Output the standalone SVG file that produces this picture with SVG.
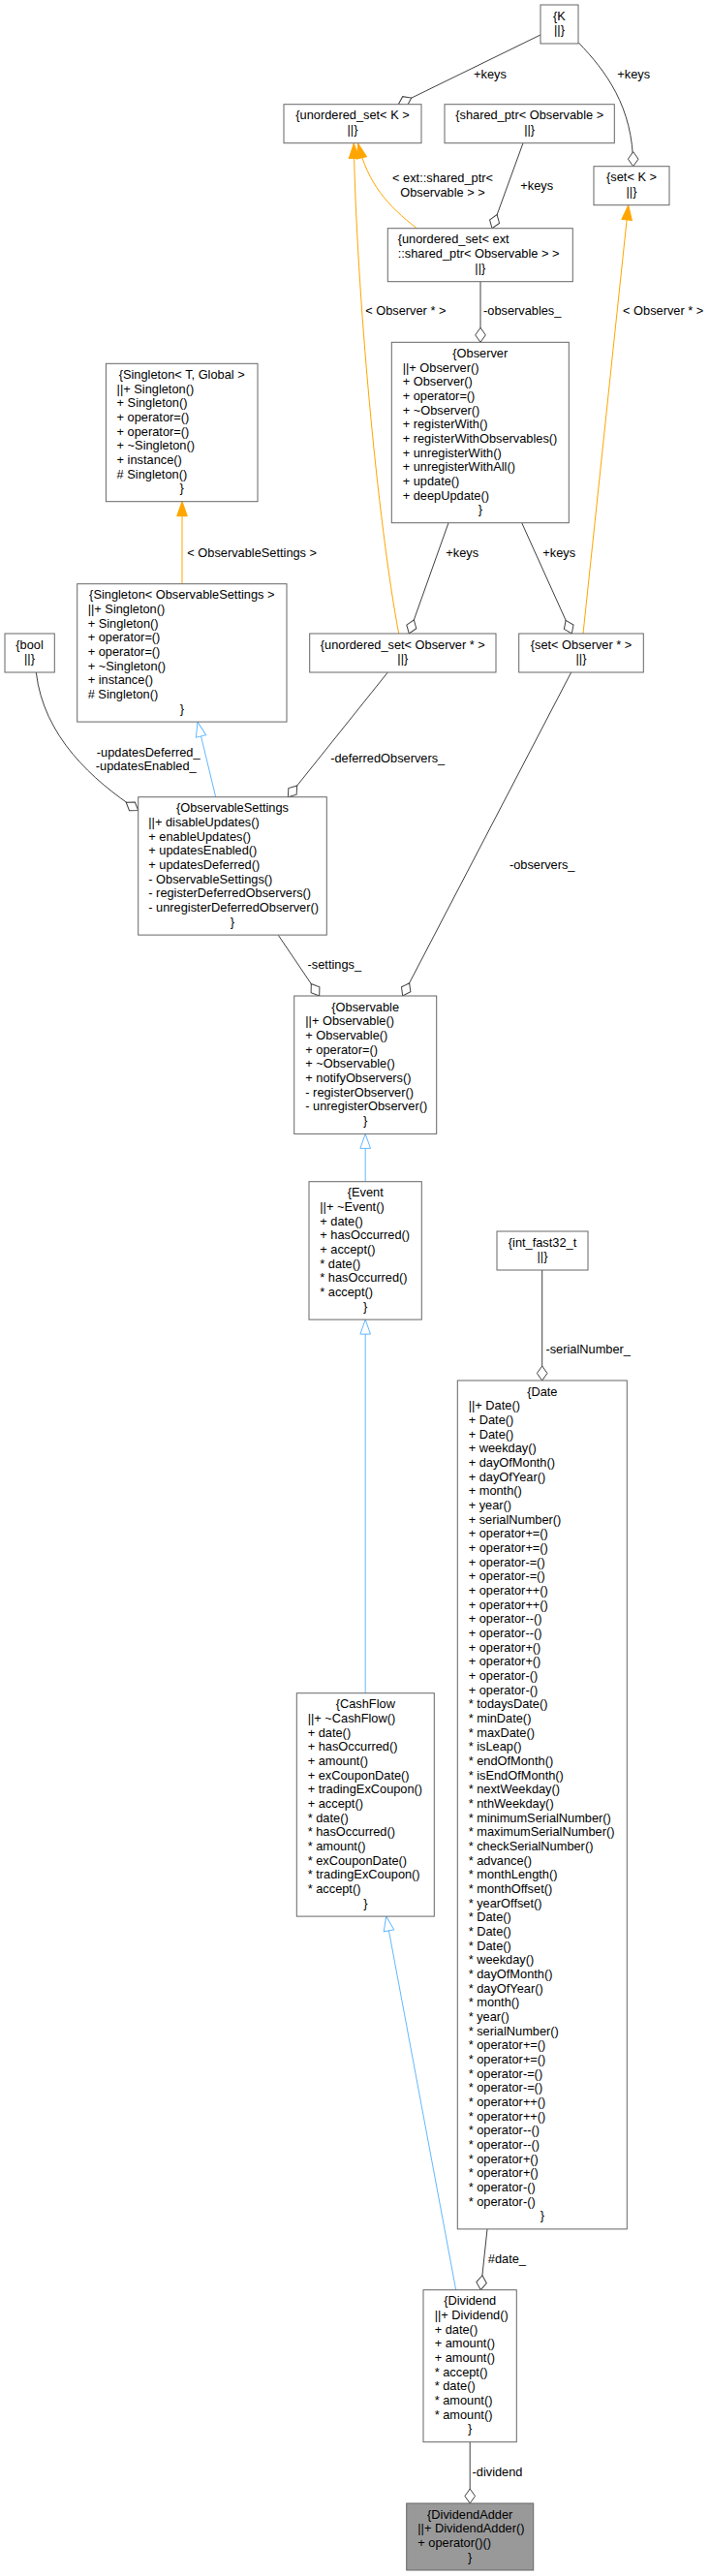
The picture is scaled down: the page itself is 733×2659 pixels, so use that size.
<svg xmlns="http://www.w3.org/2000/svg" width="733" height="2659" viewBox="0 0 733 2659">
<style>
text{font-family:"Liberation Sans",Arial,Helvetica,sans-serif;font-size:12.8px;fill:#000}
.c{text-anchor:middle}
.box{fill:#fff;stroke:#666;stroke-width:1}
.root{fill:#999;stroke:#666;stroke-width:1}
.agg{fill:none;stroke:#404040;stroke-width:1;marker-end:url(#dia)}
.inh{fill:none;stroke:#63b8ff;stroke-width:1;marker-end:url(#tri)}
.tpl{fill:none;stroke:#ffa500;stroke-width:1;marker-end:url(#otri)}
</style>
<defs>
<marker id="dia" markerUnits="userSpaceOnUse" viewBox="0 -6 16 12" markerWidth="16" markerHeight="12" refX="15" refY="0" orient="auto" overflow="visible"><path d="M0,0 L7.5,-5.3 L15,0 L7.5,5.3 Z" fill="#fff" stroke="#404040" stroke-width="1"/></marker>
<marker id="tri" markerUnits="userSpaceOnUse" viewBox="0 -6 16 12" markerWidth="16" markerHeight="12" refX="15" refY="0" orient="auto" overflow="visible"><path d="M0,-5.3 L15,0 L0,5.3 Z" fill="#fff" stroke="#63b8ff" stroke-width="1"/></marker>
<marker id="otri" markerUnits="userSpaceOnUse" viewBox="0 -6 16 12" markerWidth="16" markerHeight="12" refX="15" refY="0" orient="auto" overflow="visible"><path d="M0,-5.3 L15,0 L0,5.3 Z" fill="#ffa500" stroke="#ffa500" stroke-width="1"/></marker>
</defs>
<rect width="733" height="2659" fill="#fff"/>
<g id="edges">
<path class="agg" d="M558,36 L411.3,107.7"/>
<path class="agg" d="M597.3,44 C625,73 653.7,110 653.7,171.7"/>
<path class="agg" d="M540,147.7 L508,235.7"/>
<path class="tpl" d="M430.3,235.7 C400,212 380,190 369.7,148.3"/>
<path class="tpl" d="M411.7,654 C390,540 368,300 365.3,148.3"/>
<path class="tpl" d="M602,654 L648.7,212"/>
<path class="agg" d="M496,290.7 L496,353.3"/>
<path class="tpl" d="M188,602.7 L188,517.7"/>
<path class="agg" d="M463,539.7 L422.3,654"/>
<path class="agg" d="M538.7,539.7 L590.3,654"/>
<path class="agg" d="M37.3,694 C45,760 95,805 142.7,836.5"/>
<path class="agg" d="M400.3,694 L297.3,822.7"/>
<path class="agg" d="M589.7,694 L415.7,1028"/>
<path class="inh" d="M222.7,822.7 L204,745.3"/>
<path class="agg" d="M287.3,965.3 L329.7,1028"/>
<path class="inh" d="M377.2,1219.7 L377.2,1170.4"/>
<path class="agg" d="M559.7,1311 L559.7,1425"/>
<path class="inh" d="M377.2,1747.7 L377.2,1362.1"/>
<path class="inh" d="M470.7,2363.7 L398.7,1978.1"/>
<path class="agg" d="M503,2301 L496.3,2363.7"/>
<path class="agg" d="M485.2,2520.7 L485.2,2584"/>
<text class="c" x="506" y="80.5">+keys</text>
<text class="c" x="654.2" y="80.5">+keys</text>
<text class="c" x="554.2" y="195.5">+keys</text>
<text class="c" x="457" y="187.8">&lt; ext::shared_ptr&lt;</text>
<text class="c" x="457" y="202.8">Observable &gt; &gt;</text>
<text class="c" x="418.8" y="325.2">&lt; Observer * &gt;</text>
<text class="c" x="539.2" y="325.2">-observables_</text>
<text class="c" x="684.7" y="325.2">&lt; Observer * &gt;</text>
<text class="c" x="260.2" y="575.2">&lt; ObservableSettings &gt;</text>
<text class="c" x="477.2" y="575.2">+keys</text>
<text class="c" x="577.2" y="575.2">+keys</text>
<text class="c" x="153.2" y="780.5">-updatesDeferred_</text>
<text class="c" x="150.7" y="795.2">-updatesEnabled_</text>
<text class="c" x="400.2" y="787.2">-deferredObservers_</text>
<text class="c" x="559.7" y="897.2">-observers_</text>
<text class="c" x="345.3" y="1000.2">-settings_</text>
<text class="c" x="607.2" y="1397.2">-serialNumber_</text>
<text class="c" x="523.4" y="2336.2">#date_</text>
<text class="c" x="513.5" y="2556.2">-dividend</text>
</g>
<g id="node-K">
<rect class="box" x="558" y="5" width="39" height="40"/>
<text class="c" x="577.5" y="20.6">{K</text>
<text class="c" x="577.5" y="35.27">||}</text>
</g>
<g id="node-unordered_set_K">
<rect class="box" x="293" y="107.7" width="142" height="40"/>
<text class="c" x="364" y="123.3">{unordered_set&lt; K &gt;</text>
<text class="c" x="364" y="137.97">||}</text>
</g>
<g id="node-shared_ptr">
<rect class="box" x="459" y="107.7" width="175.3" height="40"/>
<text class="c" x="546.7" y="123.3">{shared_ptr&lt; Observable &gt;</text>
<text class="c" x="546.7" y="137.97">||}</text>
</g>
<g id="node-set_K">
<rect class="box" x="613" y="171.7" width="78" height="40"/>
<text class="c" x="652" y="187.3">{set&lt; K &gt;</text>
<text class="c" x="652" y="201.97">||}</text>
</g>
<g id="node-unordered_set_ext">
<rect class="box" x="400.3" y="235.7" width="191" height="55"/>
<text x="410.7" y="251.3">{unordered_set&lt; ext</text>
<text x="410.7" y="265.97">::shared_ptr&lt; Observable &gt; &gt;</text>
<text class="c" x="495.8" y="280.64">||}</text>
</g>
<g id="node-Observer">
<rect class="box" x="404.3" y="353.3" width="183" height="186.4"/>
<text class="c" x="495.8" y="368.9">{Observer</text>
<text x="415.7" y="383.57"><tspan x="415.7">||+ Observer()</tspan><tspan x="415.7" dy="14.67">+ Observer()</tspan><tspan x="415.7" dy="14.67">+ operator=()</tspan><tspan x="415.7" dy="14.67">+ ~Observer()</tspan><tspan x="415.7" dy="14.67">+ registerWith()</tspan><tspan x="415.7" dy="14.67">+ registerWithObservables()</tspan><tspan x="415.7" dy="14.67">+ unregisterWith()</tspan><tspan x="415.7" dy="14.67">+ unregisterWithAll()</tspan><tspan x="415.7" dy="14.67">+ update()</tspan><tspan x="415.7" dy="14.67">+ deepUpdate()</tspan></text>
<text class="c" x="495.8" y="530.27">}</text>
</g>
<g id="node-Singleton_T_Global">
<rect class="box" x="109.4" y="375.3" width="156.6" height="142.4"/>
<text class="c" x="187.7" y="390.9">{Singleton&lt; T, Global &gt;</text>
<text x="120.6" y="405.57"><tspan x="120.6">||+ Singleton()</tspan><tspan x="120.6" dy="14.67">+ Singleton()</tspan><tspan x="120.6" dy="14.67">+ operator=()</tspan><tspan x="120.6" dy="14.67">+ operator=()</tspan><tspan x="120.6" dy="14.67">+ ~Singleton()</tspan><tspan x="120.6" dy="14.67">+ instance()</tspan><tspan x="120.6" dy="14.67"># Singleton()</tspan></text>
<text class="c" x="187.7" y="508.26">}</text>
</g>
<g id="node-Singleton_ObservableSettings">
<rect class="box" x="79.7" y="602.7" width="216.3" height="142.4"/>
<text class="c" x="187.8" y="618.3">{Singleton&lt; ObservableSettings &gt;</text>
<text x="90.7" y="632.97"><tspan x="90.7">||+ Singleton()</tspan><tspan x="90.7" dy="14.67">+ Singleton()</tspan><tspan x="90.7" dy="14.67">+ operator=()</tspan><tspan x="90.7" dy="14.67">+ operator=()</tspan><tspan x="90.7" dy="14.67">+ ~Singleton()</tspan><tspan x="90.7" dy="14.67">+ instance()</tspan><tspan x="90.7" dy="14.67"># Singleton()</tspan></text>
<text class="c" x="187.8" y="735.66">}</text>
</g>
<g id="node-bool">
<rect class="box" x="5" y="654" width="51.3" height="40"/>
<text class="c" x="30.5" y="669.6">{bool</text>
<text class="c" x="30.5" y="684.27">||}</text>
</g>
<g id="node-unordered_set_Observer">
<rect class="box" x="319.7" y="654" width="192.3" height="40"/>
<text class="c" x="415.8" y="669.6">{unordered_set&lt; Observer * &gt;</text>
<text class="c" x="415.8" y="684.27">||}</text>
</g>
<g id="node-set_Observer">
<rect class="box" x="535.7" y="654" width="128.6" height="40"/>
<text class="c" x="600" y="669.6">{set&lt; Observer * &gt;</text>
<text class="c" x="600" y="684.27">||}</text>
</g>
<g id="node-ObservableSettings">
<rect class="box" x="142.7" y="822.7" width="194.6" height="142.4"/>
<text class="c" x="240" y="838.3">{ObservableSettings</text>
<text x="153.3" y="852.97"><tspan x="153.3">||+ disableUpdates()</tspan><tspan x="153.3" dy="14.67">+ enableUpdates()</tspan><tspan x="153.3" dy="14.67">+ updatesEnabled()</tspan><tspan x="153.3" dy="14.67">+ updatesDeferred()</tspan><tspan x="153.3" dy="14.67">- ObservableSettings()</tspan><tspan x="153.3" dy="14.67">- registerDeferredObservers()</tspan><tspan x="153.3" dy="14.67">- unregisterDeferredObserver()</tspan></text>
<text class="c" x="240" y="955.66">}</text>
</g>
<g id="node-Observable">
<rect class="box" x="303.7" y="1028" width="147" height="142.4"/>
<text class="c" x="377.2" y="1043.6">{Observable</text>
<text x="315.3" y="1058.27"><tspan x="315.3">||+ Observable()</tspan><tspan x="315.3" dy="14.67">+ Observable()</tspan><tspan x="315.3" dy="14.67">+ operator=()</tspan><tspan x="315.3" dy="14.67">+ ~Observable()</tspan><tspan x="315.3" dy="14.67">+ notifyObservers()</tspan><tspan x="315.3" dy="14.67">- registerObserver()</tspan><tspan x="315.3" dy="14.67">- unregisterObserver()</tspan></text>
<text class="c" x="377.2" y="1160.96">}</text>
</g>
<g id="node-Event">
<rect class="box" x="319" y="1219.7" width="116.3" height="142.4"/>
<text class="c" x="377.2" y="1235.3">{Event</text>
<text x="330.3" y="1249.97"><tspan x="330.3">||+ ~Event()</tspan><tspan x="330.3" dy="14.67">+ date()</tspan><tspan x="330.3" dy="14.67">+ hasOccurred()</tspan><tspan x="330.3" dy="14.67">+ accept()</tspan><tspan x="330.3" dy="14.67">* date()</tspan><tspan x="330.3" dy="14.67">* hasOccurred()</tspan><tspan x="330.3" dy="14.67">* accept()</tspan></text>
<text class="c" x="377.2" y="1352.66">}</text>
</g>
<g id="node-int_fast32_t">
<rect class="box" x="513" y="1271" width="94" height="40"/>
<text class="c" x="560" y="1286.6">{int_fast32_t</text>
<text class="c" x="560" y="1301.27">||}</text>
</g>
<g id="node-Date">
<rect class="box" x="472.3" y="1425" width="175" height="875.9"/>
<text class="c" x="559.8" y="1440.6">{Date</text>
<text x="483.7" y="1455.27"><tspan x="483.7">||+ Date()</tspan><tspan x="483.7" dy="14.67">+ Date()</tspan><tspan x="483.7" dy="14.67">+ Date()</tspan><tspan x="483.7" dy="14.67">+ weekday()</tspan><tspan x="483.7" dy="14.67">+ dayOfMonth()</tspan><tspan x="483.7" dy="14.67">+ dayOfYear()</tspan><tspan x="483.7" dy="14.67">+ month()</tspan><tspan x="483.7" dy="14.67">+ year()</tspan><tspan x="483.7" dy="14.67">+ serialNumber()</tspan><tspan x="483.7" dy="14.67">+ operator+=()</tspan><tspan x="483.7" dy="14.67">+ operator+=()</tspan><tspan x="483.7" dy="14.67">+ operator-=()</tspan><tspan x="483.7" dy="14.67">+ operator-=()</tspan><tspan x="483.7" dy="14.67">+ operator++()</tspan><tspan x="483.7" dy="14.67">+ operator++()</tspan><tspan x="483.7" dy="14.67">+ operator--()</tspan><tspan x="483.7" dy="14.67">+ operator--()</tspan><tspan x="483.7" dy="14.67">+ operator+()</tspan><tspan x="483.7" dy="14.67">+ operator+()</tspan><tspan x="483.7" dy="14.67">+ operator-()</tspan><tspan x="483.7" dy="14.67">+ operator-()</tspan><tspan x="483.7" dy="14.67">* todaysDate()</tspan><tspan x="483.7" dy="14.67">* minDate()</tspan><tspan x="483.7" dy="14.67">* maxDate()</tspan><tspan x="483.7" dy="14.67">* isLeap()</tspan><tspan x="483.7" dy="14.67">* endOfMonth()</tspan><tspan x="483.7" dy="14.67">* isEndOfMonth()</tspan><tspan x="483.7" dy="14.67">* nextWeekday()</tspan><tspan x="483.7" dy="14.67">* nthWeekday()</tspan><tspan x="483.7" dy="14.67">* minimumSerialNumber()</tspan><tspan x="483.7" dy="14.67">* maximumSerialNumber()</tspan><tspan x="483.7" dy="14.67">* checkSerialNumber()</tspan><tspan x="483.7" dy="14.67">* advance()</tspan><tspan x="483.7" dy="14.67">* monthLength()</tspan><tspan x="483.7" dy="14.67">* monthOffset()</tspan><tspan x="483.7" dy="14.67">* yearOffset()</tspan><tspan x="483.7" dy="14.67">* Date()</tspan><tspan x="483.7" dy="14.67">* Date()</tspan><tspan x="483.7" dy="14.67">* Date()</tspan><tspan x="483.7" dy="14.67">* weekday()</tspan><tspan x="483.7" dy="14.67">* dayOfMonth()</tspan><tspan x="483.7" dy="14.67">* dayOfYear()</tspan><tspan x="483.7" dy="14.67">* month()</tspan><tspan x="483.7" dy="14.67">* year()</tspan><tspan x="483.7" dy="14.67">* serialNumber()</tspan><tspan x="483.7" dy="14.67">* operator+=()</tspan><tspan x="483.7" dy="14.67">* operator+=()</tspan><tspan x="483.7" dy="14.67">* operator-=()</tspan><tspan x="483.7" dy="14.67">* operator-=()</tspan><tspan x="483.7" dy="14.67">* operator++()</tspan><tspan x="483.7" dy="14.67">* operator++()</tspan><tspan x="483.7" dy="14.67">* operator--()</tspan><tspan x="483.7" dy="14.67">* operator--()</tspan><tspan x="483.7" dy="14.67">* operator+()</tspan><tspan x="483.7" dy="14.67">* operator+()</tspan><tspan x="483.7" dy="14.67">* operator-()</tspan><tspan x="483.7" dy="14.67">* operator-()</tspan></text>
<text class="c" x="559.8" y="2291.46">}</text>
</g>
<g id="node-CashFlow">
<rect class="box" x="306.3" y="1747.7" width="142" height="230.4"/>
<text class="c" x="377.3" y="1763.3">{CashFlow</text>
<text x="317.7" y="1777.97"><tspan x="317.7">||+ ~CashFlow()</tspan><tspan x="317.7" dy="14.67">+ date()</tspan><tspan x="317.7" dy="14.67">+ hasOccurred()</tspan><tspan x="317.7" dy="14.67">+ amount()</tspan><tspan x="317.7" dy="14.67">+ exCouponDate()</tspan><tspan x="317.7" dy="14.67">+ tradingExCoupon()</tspan><tspan x="317.7" dy="14.67">+ accept()</tspan><tspan x="317.7" dy="14.67">* date()</tspan><tspan x="317.7" dy="14.67">* hasOccurred()</tspan><tspan x="317.7" dy="14.67">* amount()</tspan><tspan x="317.7" dy="14.67">* exCouponDate()</tspan><tspan x="317.7" dy="14.67">* tradingExCoupon()</tspan><tspan x="317.7" dy="14.67">* accept()</tspan></text>
<text class="c" x="377.3" y="1968.68">}</text>
</g>
<g id="node-Dividend">
<rect class="box" x="437" y="2363.7" width="96.3" height="157"/>
<text class="c" x="485.2" y="2379.3">{Dividend</text>
<text x="448.7" y="2393.97"><tspan x="448.7">||+ Dividend()</tspan><tspan x="448.7" dy="14.67">+ date()</tspan><tspan x="448.7" dy="14.67">+ amount()</tspan><tspan x="448.7" dy="14.67">+ amount()</tspan><tspan x="448.7" dy="14.67">* accept()</tspan><tspan x="448.7" dy="14.67">* date()</tspan><tspan x="448.7" dy="14.67">* amount()</tspan><tspan x="448.7" dy="14.67">* amount()</tspan></text>
<text class="c" x="485.2" y="2511.33">}</text>
</g>
<g id="node-DividendAdder">
<rect class="root" x="419.7" y="2584" width="131" height="69"/>
<text class="c" x="485.2" y="2599.6">{DividendAdder</text>
<text x="431.3" y="2614.27"><tspan x="431.3">||+ DividendAdder()</tspan><tspan x="431.3" dy="14.67">+ operator()()</tspan></text>
<text class="c" x="485.2" y="2643.61">}</text>
</g>
</svg>
